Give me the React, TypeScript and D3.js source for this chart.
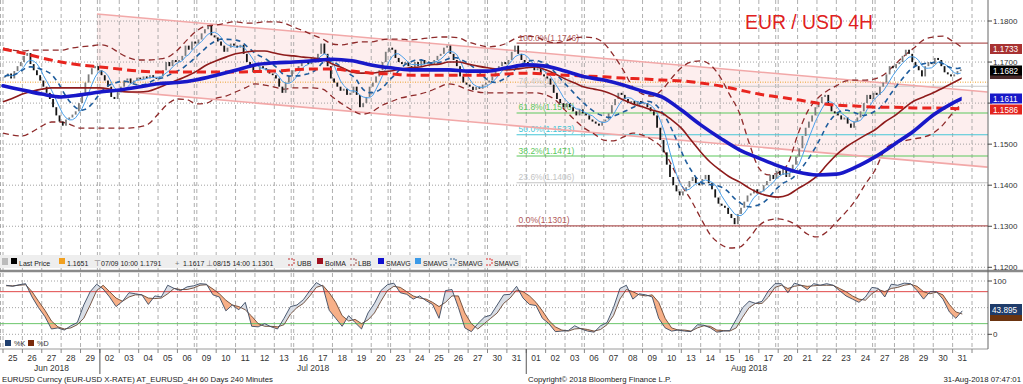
import React from "react";
import * as d3 from "d3";

// ---------- DATA ----------
const dayLabels = ["25","26","27","28","29","02","03","04","05","06","09","10","11","12","13","16","17","18","19","20","23","24","25","26","27","30","31","01","02","03","06","07","08","09","10","13","14","15","16","17","20","21","22","23","24","27","28","29","30","31"];
const months = ["Jun 2018", "Jul 2018", "Aug 2018"];
const monthStartDay = [0, 5, 27];
const weekStartDays = [0, 5, 10, 15, 20, 25, 30, 35, 40, 45];

// 4H closes, one row per trading day (Jun 25 .. Aug 31)
const closes = [
  [1.1665,1.1672,1.1660,1.1678,1.1690,1.1700],
  [1.1715,1.1722,1.1695,1.1680,1.1668,1.1655],
  [1.1640,1.1625,1.1610,1.1590,1.1570,1.1555],
  [1.1545,1.1560,1.1565,1.1572,1.1580,1.1600],
  [1.1620,1.1650,1.1670,1.1685,1.1690,1.1680],
  [1.1668,1.1655,1.1640,1.1615,1.1610,1.1630],
  [1.1640,1.1655,1.1660,1.1648,1.1655,1.1662],
  [1.1658,1.1665,1.1660,1.1668,1.1662,1.1660],
  [1.1665,1.1680,1.1700,1.1690,1.1705,1.1700],
  [1.1705,1.1715,1.1740,1.1730,1.1750,1.1745],
  [1.1755,1.1770,1.1780,1.1788,1.1765,1.1760],
  [1.1750,1.1740,1.1725,1.1735,1.1745,1.1740],
  [1.1735,1.1742,1.1720,1.1700,1.1690,1.1675],
  [1.1680,1.1690,1.1685,1.1680,1.1672,1.1668],
  [1.1660,1.1640,1.1625,1.1650,1.1665,1.1680],
  [1.1680,1.1690,1.1700,1.1705,1.1695,1.1710],
  [1.1705,1.1720,1.1745,1.1720,1.1690,1.1660],
  [1.1650,1.1640,1.1630,1.1635,1.1620,1.1625],
  [1.1640,1.1620,1.1590,1.1600,1.1615,1.1640],
  [1.1650,1.1665,1.1680,1.1700,1.1725,1.1735],
  [1.1730,1.1710,1.1700,1.1695,1.1700,1.1690],
  [1.1685,1.1700,1.1690,1.1705,1.1695,1.1700],
  [1.1695,1.1705,1.1715,1.1720,1.1735,1.1740],
  [1.1720,1.1705,1.1690,1.1665,1.1650,1.1645],
  [1.1640,1.1632,1.1640,1.1635,1.1645,1.1650],
  [1.1655,1.1665,1.1680,1.1690,1.1700,1.1695],
  [1.1705,1.1725,1.1740,1.1720,1.1705,1.1700],
  [1.1695,1.1690,1.1680,1.1685,1.1670,1.1665],
  [1.1660,1.1645,1.1625,1.1610,1.1600,1.1590],
  [1.1600,1.1590,1.1580,1.1570,1.1585,1.1575],
  [1.1570,1.1560,1.1555,1.1550,1.1545,1.1555],
  [1.1560,1.1575,1.1595,1.1610,1.1625,1.1620],
  [1.1610,1.1600,1.1605,1.1595,1.1605,1.1600],
  [1.1600,1.1590,1.1580,1.1570,1.1540,1.1510],
  [1.1480,1.1450,1.1420,1.1400,1.1385,1.1375],
  [1.1385,1.1395,1.1410,1.1420,1.1405,1.1400],
  [1.1415,1.1425,1.1405,1.1390,1.1370,1.1355],
  [1.1350,1.1345,1.1330,1.1320,1.1305,1.1330],
  [1.1345,1.1360,1.1375,1.1380,1.1390,1.1380],
  [1.1385,1.1400,1.1410,1.1425,1.1415,1.1435],
  [1.1425,1.1440,1.1420,1.1430,1.1450,1.1470],
  [1.1490,1.1520,1.1540,1.1555,1.1570,1.1590],
  [1.1600,1.1615,1.1620,1.1595,1.1580,1.1575],
  [1.1570,1.1560,1.1565,1.1550,1.1540,1.1555],
  [1.1565,1.1580,1.1600,1.1620,1.1610,1.1625],
  [1.1620,1.1640,1.1650,1.1670,1.1690,1.1685],
  [1.1695,1.1700,1.1715,1.1730,1.1720,1.1700],
  [1.1690,1.1680,1.1665,1.1690,1.1700,1.1695],
  [1.1710,1.1705,1.1690,1.1675,1.1670,1.1665],
  [1.1670,1.1678,1.1682],
];

// daily samples (day 0..50)
const smaBlue = [
  1.1642,1.1632,1.1622,1.1615,1.1620,1.1627,1.1632,1.1639,1.1647,1.1650,
  1.1657,1.1668,1.1680,1.1693,1.1698,1.1700,1.1703,1.1707,1.1703,1.1693,
  1.1686,1.1681,1.1681,1.1681,1.1678,1.1678,1.1686,1.1693,1.1690,1.1678,
  1.1664,1.1656,1.1644,1.1629,1.1615,1.1583,1.1547,1.1515,1.1486,1.1466,
  1.1447,1.1432,1.1425,1.1427,1.1444,1.1469,1.1500,1.1532,1.1571,1.1600,1.1622,
];
const smaRed = [
  1.1732,1.1722,1.1710,1.1700,1.1693,1.1688,1.1683,1.1678,1.1676,1.1676,
  1.1676,1.1676,1.1676,1.1677,1.1678,1.1681,1.1683,1.1683,1.1678,1.1673,
  1.1671,1.1668,1.1668,1.1668,1.1668,1.1668,1.1671,1.1673,1.1671,1.1668,
  1.1666,1.1664,1.1661,1.1659,1.1656,1.1654,1.1649,1.1642,1.1632,1.1622,
  1.1615,1.1608,1.1600,1.1595,1.1593,1.1590,1.1590,1.1588,1.1588,1.1587,1.1585,
];
// half-day samples (day 0, 0.5, ... 49.5)
const boima = [
  1.1603,1.1612,1.1622,1.1629,1.1634,1.1637,1.1637,1.1637,1.1637,1.1637,
  1.1637,1.1634,1.1629,1.1627,1.1627,1.1629,1.1637,1.1647,1.1656,1.1666,
  1.1678,1.1693,1.1703,1.1712,1.1720,1.1724,1.1727,1.1727,1.1722,1.1717,
  1.1715,1.1712,1.1710,1.1707,1.1695,1.1686,1.1676,1.1673,1.1673,1.1676,
  1.1678,1.1683,1.1686,1.1688,1.1693,1.1695,1.1700,1.1700,1.1695,1.1690,
  1.1686,1.1683,1.1681,1.1683,1.1686,1.1688,1.1681,1.1671,1.1659,1.1649,
  1.1639,1.1634,1.1629,1.1620,1.1608,1.1598,1.1591,1.1583,1.1576,1.1559,
  1.1539,1.1510,1.1481,1.1456,1.1437,1.1420,1.1408,1.1393,1.1381,1.1374,
  1.1371,1.1376,1.1391,1.1405,1.1422,1.1449,1.1474,1.1493,1.1508,1.1522,
  1.1535,1.1554,1.1569,1.1588,1.1605,1.1615,1.1625,1.1637,1.1649,1.1661,
];
const upperBand = [
  1.1734,1.1729,1.1727,1.1729,1.1729,1.1729,1.1729,1.1734,1.1737,1.1739,
  1.1742,1.1737,1.1722,1.1710,1.1705,1.1705,1.1707,1.1712,1.1729,1.1754,
  1.1776,1.1788,1.1790,1.1795,1.1798,1.1795,1.1795,1.1798,1.1798,1.1795,
  1.1785,1.1776,1.1766,1.1756,1.1744,1.1742,1.1746,1.1749,1.1749,1.1754,
  1.1756,1.1756,1.1754,1.1756,1.1759,1.1761,1.1761,1.1759,1.1749,1.1742,
  1.1737,1.1739,1.1746,1.1759,1.1763,1.1761,1.1751,1.1747,1.1751,1.1759,
  1.1761,1.1759,1.1746,1.1717,1.1681,1.1639,1.1622,1.1617,1.1632,1.1661,
  1.1686,1.1700,1.1703,1.1693,1.1664,1.1620,1.1576,1.1503,1.1442,1.1425,
  1.1430,1.1452,1.1522,1.1578,1.1610,1.1629,1.1642,1.1654,1.1656,1.1656,
  1.1659,1.1671,1.1693,1.1715,1.1734,1.1754,1.1761,1.1763,1.1751,1.1735,
];
const lowerBand = [
  1.1527,1.1522,1.1520,1.1530,1.1544,1.1554,1.1554,1.1547,1.1539,1.1539,
  1.1539,1.1539,1.1539,1.1539,1.1542,1.1549,1.1573,1.1598,1.1610,1.1608,
  1.1598,1.1600,1.1612,1.1617,1.1627,1.1637,1.1647,1.1644,1.1639,1.1634,
  1.1637,1.1637,1.1637,1.1634,1.1615,1.1598,1.1583,1.1573,1.1578,1.1593,
  1.1603,1.1612,1.1617,1.1622,1.1629,1.1639,1.1647,1.1642,1.1632,1.1627,
  1.1625,1.1625,1.1625,1.1625,1.1625,1.1625,1.1620,1.1608,1.1583,1.1559,
  1.1539,1.1525,1.1510,1.1508,1.1517,1.1527,1.1522,1.1510,1.1491,1.1449,
  1.1401,1.1364,1.1320,1.1279,1.1257,1.1247,1.1249,1.1271,1.1301,1.1315,
  1.1318,1.1313,1.1301,1.1281,1.1274,1.1286,1.1310,1.1335,1.1364,1.1403,
  1.1437,1.1486,1.1503,1.1508,1.1513,1.1517,1.1527,1.1547,1.1576,1.1600,
];

// trend channel (day, price)
const channelDays = [4.85, 50.8];
const channelUpper = [1.1817, 1.1627];
const channelLower = [1.1634, 1.1444];

// Fibonacci retracement
const fibStartDay = 26.5;
const fibNames = ["100.0%", "76.4%", "61.8%", "50.0%", "38.2%", "23.6%", "0.0%"];
const fibValues = [1.1746, 1.1641, 1.1576, 1.1523, 1.1471, 1.1406, 1.1301];
const fibColors = ["#b25a5a", "#c9c9c9", "#5cc85c", "#46c6d6", "#5cc85c", "#c4c4c4", "#b25a5a"];

const refPrice = 1.1651;
const priceTicks = [1.12, 1.13, 1.14, 1.15, 1.16, 1.17, 1.18];
const priceTickLabels = [1.12, 1.13, 1.14, 1.15, 1.17, 1.18];

// Stochastic, three samples per day
const stochK = [
  [92,90,93],[95,70,50],[33,10,12],[8,16,22],[55,80,94],[85,70,52],[62,78,76],[74,56,72],[70,92,86],[82,89,91],
  [95,94,74],[70,44,55],[46,60,15],[14,20,14],[10,30,52],[55,65,82],[97,90,45],[30,15,35],[22,10,40],[58,82,93],
  [96,78,75],[66,72,63],[56,30,82],[84,50,12],[5,20,32],[36,55,74],[75,90,68],[56,54,30],[20,5,6],[7,16,10],
  [6,4,16],[22,50,86],[92,66,76],[74,70,30],[12,6,8],[6,5,18],[17,12,4],[6,7,28],[50,62,58],[62,82,95],
  [95,78,96],[92,84,95],[92,95,92],[82,72,66],[60,70,88],[86,70,94],[92,96,95],[82,66,80],[80,66,42],[30,44],
];
const stochD = [
  [91,91,92],[93,80,62],[45,25,14],[10,12,18],[30,55,82],[92,80,68],[62,70,74],[74,68,67],[68,76,86],[84,84,87],
  [92,93,85],[76,64,55],[52,46,34],[20,15,15],[14,18,38],[50,58,72],[88,92,78],[60,35,25],[28,20,27],[40,62,82],
  [90,88,80],[72,68,66],[60,52,60],[72,72,40],[20,10,20],[30,40,58],[68,83,80],[72,60,44],[26,14,8],[6,10,11],
  [9,6,9],[18,35,66],[84,80,74],[72,74,60],[30,12,8],[8,6,12],[16,15,8],[7,6,12],[32,50,58],[58,70,88],
  [92,86,90],[92,90,91],[92,92,92],[86,80,72],[66,64,76],[84,80,86],[88,92,94],[90,80,76],[79,74,56],[42,38],
];
const stochTicks = [0, 50, 100];

const FONT = "'Liberation Sans', Arial, sans-serif";

export default function App() {
  const x = d3.scaleLinear().domain([0, 50]).range([3, 972]);
  const y = d3.scaleLinear().domain([1.12, 1.18]).range([267.3, 21]);
  const ys = d3.scaleLinear().domain([0, 100]).range([334.3, 281]);
  const axisX = 988;

  const bars = closes.flatMap((day, d) => day.map((c, k) => ({ t: d + (k + 0.5) / 6, c })));
  const candles = bars.map((b, i) => ({ t: b.t, o: i === 0 ? b.c : bars[i - 1].c, c: b.c }));
  const smaOf = (n: number) =>
    bars.map((b, i) => ({ t: b.t, v: d3.mean(bars.slice(Math.max(0, i - n + 1), i + 1), (e) => e.c) as number }));
  const fast = smaOf(5);
  const mid = smaOf(12);
  const half = (arr: number[]) => arr.map((v, i) => ({ t: i / 2, v }));
  const daily = (arr: number[]) => arr.map((v, i) => ({ t: i, v }));

  const curve = d3.line<any>().x((d) => x(d.t)).y((d) => y(d.v)).curve(d3.curveMonotoneX);
  const straight = d3.line<any>().x((d) => x(d.t)).y((d) => y(d.v));

  const stoch = stochK.flatMap((day, d) => day.map((k, j) => ({ t: d + (j + 0.5) / 3, k, dd: stochD[d][j] })));
  const kLine = d3.line<any>().x((d) => x(d.t)).y((d) => ys(d.k));
  const dLine = d3.line<any>().x((d) => x(d.t)).y((d) => ys(d.dd));
  const areaTopToD = d3.area<any>().x((d) => x(d.t)).y0(272).y1((d) => ys(d.dd));
  const areaTopToK = d3.area<any>().x((d) => x(d.t)).y0(272).y1((d) => ys(d.k));
  const areaKToBottom = d3.area<any>().x((d) => x(d.t)).y0((d) => ys(d.k)).y1(349);
  const areaDToBottom = d3.area<any>().x((d) => x(d.t)).y0((d) => ys(d.dd)).y1(349);

  const chPoly = [
    [x(channelDays[0]), y(channelUpper[0])],
    [x(channelDays[1]), y(channelUpper[1])],
    [x(channelDays[1]), y(channelLower[1])],
    [x(channelDays[0]), y(channelLower[0])],
  ];

  const gridDays = d3.range(0, 51);
  const lastT = bars[bars.length - 1].t;

  const legendItems: any[] = [
    { kind: "sq", color: "#000", x: 11, tx: 19, label: "Last Price" },
    { kind: "sq", color: "#f0a020", x: 59, tx: 67, label: "1.1651" },
    { kind: "glyph", g: "⊤", x: 94, tx: 101, label: "07/09 10:00 1.1791" },
    { kind: "glyph", g: "+", x: 175, tx: 183, label: "1.1617" },
    { kind: "glyph", g: "⊥", x: 206, tx: 213, label: "08/15 14:00 1.1301" },
    { kind: "br", color: "#c03030", x: 288, tx: 297, label: "UBB" },
    { kind: "sq", color: "#a01020", x: 317, tx: 325, label: "BoIMA" },
    { kind: "br", color: "#a05050", x: 350, tx: 358, label: "LBB" },
    { kind: "sq", color: "#1010d0", x: 378, tx: 386, label: "SMAVG" },
    { kind: "sq", color: "#3a9ae8", x: 415, tx: 423, label: "SMAVG" },
    { kind: "br", color: "#3a6a9a", x: 450, tx: 458, label: "SMAVG" },
    { kind: "br", color: "#e03030", x: 486, tx: 494, label: "SMAVG" },
  ];

  const boxes = [
    { v: "1.1733", bg: "#a83232", yc: 49 },
    { v: "1.1682", bg: "#000000", yc: 70.5 },
    { v: "1.1611", bg: "#1818c8", yc: 98.5 },
    { v: "1.1586", bg: "#e3241e", yc: 109.5 },
  ];

  return (
    <svg
      width={1023}
      height={384}
      viewBox="0 0 1023 384"
      style={{ position: "absolute", left: 0, top: 0, background: "#fff", fontFamily: FONT }}
    >
      <defs>
        <clipPath id="mainClip"><rect x={0} y={0} width={axisX} height={269} /></clipPath>
        <clipPath id="dataClip"><rect x={0} y={0} width={x(lastT) + 1} height={269} /></clipPath>
        <clipPath id="kBelow"><path d={areaKToBottom(stoch) || ""} /></clipPath>
        <clipPath id="dBelow"><path d={areaDToBottom(stoch) || ""} /></clipPath>
        <clipPath id="stochClip"><rect x={0} y={272} width={axisX} height={77} /></clipPath>
      </defs>
      <rect x={0} y={0} width={1023} height={384} fill="#fff" />

      {/* channel fill */}
      <g clipPath="url(#mainClip)">
        <polygon points={chPoly.map((p) => p.join(",")).join(" ")} fill="#fdeeee" />
      </g>

      {/* horizontal grid */}
      {priceTicks.map((p) => (
        <line key={"hg" + p} x1={0} x2={axisX} y1={y(p)} y2={y(p)} stroke="#8c8c8c" strokeWidth={0.8} strokeDasharray="1 2" />
      ))}
      {stochTicks.map((v) => (
        <line key={"sg" + v} x1={0} x2={axisX} y1={ys(v)} y2={ys(v)} stroke="#8c8c8c" strokeWidth={0.8} strokeDasharray="1 2" />
      ))}

      {/* vertical grid */}
      {gridDays.map((d) => (
        <line key={"vg" + d} x1={x(d)} x2={x(d)} y1={0} y2={349} stroke="#9a9a9a" strokeWidth={0.8} strokeDasharray="4 3" />
      ))}
      {weekStartDays.map((d) => (
        <line key={"vw" + d} x1={x(d) - 2.5} x2={x(d) - 2.5} y1={0} y2={349} stroke="#9a9a9a" strokeWidth={0.8} strokeDasharray="4 3" />
      ))}

      <g clipPath="url(#mainClip)">
        {/* reference price dotted line */}
        <line x1={0} x2={axisX} y1={y(refPrice)} y2={y(refPrice)} stroke="#eba02a" strokeWidth={1} strokeDasharray="1 1.5" />

        {/* Fibonacci */}
        {fibValues.map((v, i) => (
          <g key={"fib" + i}>
            <line x1={x(fibStartDay)} x2={axisX} y1={y(v)} y2={y(v)} stroke={fibColors[i]} strokeWidth={1.1} />
            <text x={x(fibStartDay) + 2} y={y(v) - 2.5} fontSize={8.5} fill={fibColors[i]}>
              {`${fibNames[i]}(${v.toFixed(4)})`}
            </text>
          </g>
        ))}

        {/* channel lines */}
        <line x1={chPoly[0][0]} y1={chPoly[0][1]} x2={chPoly[1][0]} y2={chPoly[1][1]} stroke="#f2a8a8" strokeWidth={1.6} />
        <line x1={chPoly[3][0]} y1={chPoly[3][1]} x2={chPoly[2][0]} y2={chPoly[2][1]} stroke="#f2a8a8" strokeWidth={1.6} />

        {/* Bollinger bands */}
        <g clipPath="url(#dataClip)">
          <path d={curve(half(upperBand)) || ""} fill="none" stroke="#8e2a2a" strokeWidth={1.3} strokeDasharray="6 4" />
          <path d={curve(half(lowerBand)) || ""} fill="none" stroke="#8e2a2a" strokeWidth={1.3} strokeDasharray="6 4" />
        </g>

        {/* candles */}
        {candles.map((c, i) => {
          const y1 = y(Math.max(c.o, c.c));
          const y2 = y(Math.min(c.o, c.c));
          return (
            <rect
              key={"c" + i}
              x={x(c.t) - 0.9}
              y={y1}
              width={1.8}
              height={Math.max(1.2, y2 - y1)}
              fill={c.c < c.o ? "#141414" : "#7c7c7c"}
            />
          );
        })}

        {/* fast SMAs */}
        <path d={straight(fast) || ""} fill="none" stroke="#4aa0ea" strokeWidth={1} />
        <path d={straight(mid) || ""} fill="none" stroke="#1e5c9c" strokeWidth={1.6} strokeDasharray="5 4" />

        <g clipPath="url(#dataClip)">
          <path d={curve(half(boima)) || ""} fill="none" stroke="#8e1b1b" strokeWidth={1.6} />
          <path d={curve(daily(smaRed)) || ""} fill="none" stroke="#e8241e" strokeWidth={3} strokeDasharray="9 5" />
          <path d={curve(daily(smaBlue)) || ""} fill="none" stroke="#1818c8" strokeWidth={3.6} strokeLinecap="round" />
        </g>
      </g>

      {/* Title */}
      <text x={745} y={29} fontSize={21} fill="#e02020" textLength={128} lengthAdjust="spacingAndGlyphs">EUR / USD 4H</text>

      {/* Legend strip */}
      <rect x={0} y={255} width={521} height={13} fill="#eeeeee" />
      <rect x={2} y={258} width={6} height={7} fill="#bbb" />
      {legendItems.map((it, i) => (
        <g key={"lg" + i} fontSize={7} fill="#222">
          {it.kind === "sq" && <rect x={it.x} y={258} width={6} height={6} fill={it.color} />}
          {it.kind === "glyph" && <text x={it.x} y={266} fontSize={7.5} fill="#777">{it.g}</text>}
          {it.kind === "br" && (
            <path d={`M${it.x},259 h6 M${it.x + 6},259 v6 M${it.x},265 h6`} stroke={it.color} strokeWidth={1} strokeDasharray="2 1" fill="none" />
          )}
          <text x={it.tx} y={265.5}>{it.label}</text>
        </g>
      ))}

      {/* separators */}
      <line x1={0} x2={1023} y1={271} y2={271} stroke="#8a8a8a" strokeWidth={2.5} />
      <line x1={0} x2={axisX} y1={349} y2={349} stroke="#9a9a9a" strokeWidth={1} />

      {/* Stochastic */}
      <g clipPath="url(#stochClip)">
        <path d={areaTopToD(stoch) || ""} fill="#d9dee6" clipPath="url(#kBelow)" />
        <path d={areaTopToK(stoch) || ""} fill="#f7b088" clipPath="url(#dBelow)" />
        <line x1={0} x2={axisX} y1={ys(80)} y2={ys(80)} stroke="#e04848" strokeWidth={1} />
        <line x1={0} x2={axisX} y1={ys(20)} y2={ys(20)} stroke="#6cc66c" strokeWidth={1} />
        <path d={dLine(stoch) || ""} fill="none" stroke="#6a4632" strokeWidth={0.9} />
        <path d={kLine(stoch) || ""} fill="none" stroke="#3a4a62" strokeWidth={0.9} />
      </g>
      <rect x={5} y={340} width={6} height={6} fill="#1f3f6f" />
      <text x={14} y={346} fontSize={7.2} fill="#333">%K</text>
      <rect x={28} y={340} width={6} height={6} fill="#7a2a0a" />
      <text x={37} y={346} fontSize={7.2} fill="#333">%D</text>

      {/* right axes */}
      <line x1={axisX} x2={axisX} y1={0} y2={349} stroke="#666" strokeWidth={1} />
      {priceTicks.map((p) => (
        <line key={"ptk" + p} x1={axisX} x2={axisX + 4} y1={y(p)} y2={y(p)} stroke="#444" />
      ))}
      {priceTickLabels.map((p) => (
        <text key={"pt" + p} x={axisX + 5} y={y(p) + 3} fontSize={8} fill="#333">{p.toFixed(4)}</text>
      ))}
      {[0, 100].map((v) => (
        <g key={"st" + v}>
          <line x1={axisX} x2={axisX + 4} y1={ys(v)} y2={ys(v)} stroke="#444" />
          <text x={axisX + 5} y={ys(v) + 3} fontSize={8} fill="#333">{v}</text>
        </g>
      ))}
      {/* partly hidden value box behind the last price */}
      <rect x={axisX + 2} y={69} width={32} height={10} fill="#4a2a2a" />
      {boxes.map((b, i) => (
        <g key={"bx" + i}>
          <rect x={axisX + 2} y={b.yc - 5} width={32} height={10} fill={b.bg} />
          <text x={axisX + 5} y={b.yc + 3} fontSize={8.2} fill="#fff">{b.v}</text>
        </g>
      ))}
      <rect x={axisX + 2} y={310} width={32} height={11} fill="#6b3410" />
      <rect x={axisX + 2} y={304} width={32} height={11} fill="#1f3c6a" />
      <text x={axisX + 4} y={313} fontSize={8.2} fill="#fff">43.895</text>

      {/* date axis */}
      {gridDays.map((d) => (
        <line key={"dt" + d} x1={x(d)} x2={x(d)} y1={349} y2={353} stroke="#888" />
      ))}
      {dayLabels.map((l, i) => (
        <text key={"dl" + i} x={x(i + 0.5)} y={361} fontSize={8.5} fill="#333" textAnchor="middle">{l}</text>
      ))}
      {months.map((m, i) => {
        const s = monthStartDay[i];
        const e = i + 1 < months.length ? monthStartDay[i + 1] : 50;
        return (
          <g key={"m" + i}>
            {i > 0 && <line x1={x(s)} x2={x(s)} y1={349} y2={374} stroke="#555" strokeWidth={1} />}
            <text x={x((s + e) / 2)} y={371} fontSize={8.5} fill="#333" textAnchor="middle">{m}</text>
          </g>
        );
      })}

      {/* footer */}
      <text x={2} y={382} fontSize={7.8} fill="#222">EURUSD Curncy (EUR-USD X-RATE) AT_EURUSD_4H 60 Days 240 Minutes</text>
      <text x={528} y={382} fontSize={7.8} fill="#222">Copyright© 2018 Bloomberg Finance L.P.</text>
      <text x={1021} y={382} fontSize={7.8} fill="#222" textAnchor="end">31-Aug-2018 07:47:01</text>
    </svg>
  );
}
